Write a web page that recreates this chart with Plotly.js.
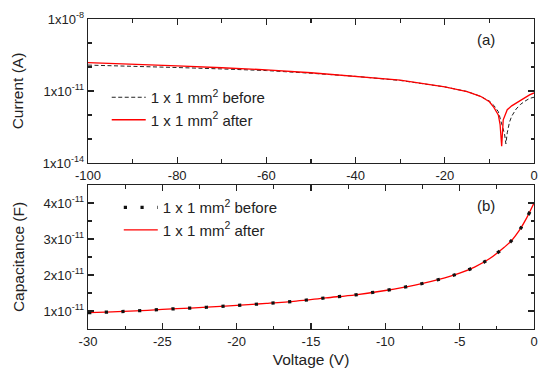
<!DOCTYPE html>
<html>
<head>
<meta charset="utf-8">
<script src="https://cdn.plot.ly/plotly-3.0.1.min.js"></script>
<style>html,body{margin:0;padding:0;background:#fff;}#chart{width:550px;height:379px;}</style>
</head>
<body>
<div id="chart"></div>
<script>
// Panel (a): current vs voltage (absolute current, A)
const ivVoltageBefore = [-100,-90,-80,-70,-60,-50,-40,-30,-20,-15,-12,-10,-9,-8,-7,-6.6,-6.3,-6,-5.5,-5,-4,-3,-2,-1,0];
const ivCurrentBefore = [1.2e-10,1.1e-10,9.5e-11,8.3e-11,7.1e-11,5.5e-11,4.07e-11,2.75e-11,1.48e-11,9.5e-12,6.0e-12,3.8e-12,2.5e-12,1.38e-12,3.5e-13,1.6e-13,6.3e-14,1.8e-13,5.0e-13,8.9e-13,1.78e-12,2.8e-12,3.8e-12,4.9e-12,5.5e-12];
const ivVoltageAfter = [-100,-90,-80,-70,-60,-50,-40,-30,-20,-15,-12,-10,-9,-8,-7.6,-7.25,-6.9,-6.5,-6,-5,-4,-3,-2,-1,0];
const ivCurrentAfter = [1.51e-10,1.32e-10,1.12e-10,9.3e-11,7.6e-11,5.75e-11,4.17e-11,2.82e-11,1.48e-11,9.5e-12,6.0e-12,3.55e-12,2.09e-12,1.0e-12,4.0e-13,5.0e-14,6.3e-13,1.0e-12,1.66e-12,2.4e-12,3.16e-12,3.98e-12,5.25e-12,6.9e-12,8.3e-12];

// Panel (b): capacitance vs voltage (F)
const cvVoltage = [-30,-28,-26,-24,-22,-20,-18,-16,-14,-12,-10,-8,-6,-5,-4,-3,-2,-1.5,-1,-0.5,0];
const cvCapBefore = [0.955e-11,0.98e-11,1.02e-11,1.065e-11,1.105e-11,1.155e-11,1.21e-11,1.275e-11,1.365e-11,1.45e-11,1.57e-11,1.72e-11,1.92e-11,2.05e-11,2.22e-11,2.45e-11,2.77e-11,2.96e-11,3.23e-11,3.58e-11,4.0e-11];
const cvCapAfter = [0.955e-11,0.98e-11,1.02e-11,1.065e-11,1.105e-11,1.155e-11,1.21e-11,1.275e-11,1.365e-11,1.45e-11,1.57e-11,1.72e-11,1.92e-11,2.05e-11,2.22e-11,2.45e-11,2.77e-11,2.96e-11,3.23e-11,3.58e-11,4.0e-11];

// Tick labels
const topXTicks = [-100,-80,-60,-40,-20,0];
const topXLabels = ['-100','-80','-60','-40','-20','0'];
const topYTicks = [1e-14,1e-11,1e-8];
const topYLabels = ['1x10<sup>-14</sup>','1x10<sup>-11</sup>','1x10<sup>-8</sup>'];
const topYMinor = [1e-13,1e-12,1e-10,1e-9];
const botXTicks = [-30,-25,-20,-15,-10,-5,0];
const botXLabels = ['-30','-25','-20','-15','-10','-5','0'];
const botYTicks = [1e-11,2e-11,3e-11,4e-11];
const botYLabels = ['1x10<sup>-11</sup>','2x10<sup>-11</sup>','3x10<sup>-11</sup>','4x10<sup>-11</sup>'];

const legendName1 = '1 x 1 mm<sup>2</sup> before';
const legendName2 = '1 x 1 mm<sup>2</sup> after';

const FONT = 'Liberation Sans, Arial, sans-serif';
const axisCol = '#222';

const traces = [
  {x: ivVoltageBefore, y: ivCurrentBefore, xaxis:'x', yaxis:'y', mode:'lines', name: legendName1,
   line:{color:'#222', width:1, dash:'4px,2.5px'}, legend:'legend', legendrank:1},
  {x: ivVoltageAfter, y: ivCurrentAfter, xaxis:'x', yaxis:'y', mode:'lines', name: legendName2,
   line:{color:'#ff0000', width:1.3}, legend:'legend', legendrank:2},
  {x: cvVoltage, y: cvCapAfter, xaxis:'x2', yaxis:'y2', mode:'lines', name: legendName2,
   line:{color:'#ff0000', width:1.3, shape:'spline'}, legend:'legend2', legendrank:2},
  {x: cvVoltage, y: cvCapBefore, xaxis:'x2', yaxis:'y2', mode:'lines', name: legendName1,
   line:{color:'#111', width:3.2, dash:'3.2px,13.5px', shape:'spline'}, legend:'legend2', legendrank:1}
];

const baseAxis = {
  showline:true, linecolor:axisCol, linewidth:1.3, mirror:'ticks',
  ticks:'inside', ticklen:6, tickwidth:1.2, tickcolor:axisCol,
  showgrid:false, zeroline:false,
  tickfont:{family:FONT, size:13, color:'#222'}
};
const titleFont = {family:FONT, size:15.5, color:'#222'};

const layout = {
  width:550, height:379,
  margin:{l:88, r:16, t:19, b:50},
  paper_bgcolor:'#fff', plot_bgcolor:'#fff',
  font:{family:FONT, color:'#222'},
  showlegend:true,
  xaxis: Object.assign({}, baseAxis, {
    domain:[0,1], anchor:'y', range:[-100,0], tickmode:'array', tickvals:topXTicks, ticktext:topXLabels,
    minor:{ticks:'inside', ticklen:3.5, tickwidth:1.2, tickcolor:axisCol, dtick:10, tick0:0}
  }),
  yaxis: Object.assign({}, baseAxis, {
    domain:[0.5355,1], anchor:'x', type:'log', range:[-14,-8], tickmode:'array',
    tickvals:topYTicks, ticktext:topYLabels,
    minor:{ticks:'inside', ticklen:3.5, tickwidth:1.2, tickcolor:axisCol, tickmode:'array', tickvals:topYMinor},
    title:{text:'Current (A)', font:titleFont, standoff:15}
  }),
  xaxis2: Object.assign({}, baseAxis, {
    domain:[0,1], anchor:'y2', range:[-30,0], tickmode:'array', tickvals:botXTicks, ticktext:botXLabels,
    minor:{ticks:'inside', ticklen:3.5, tickwidth:1.2, tickcolor:axisCol, dtick:2.5, tick0:0},
    title:{text:'Voltage (V)', font:titleFont, standoff:6}
  }),
  yaxis2: Object.assign({}, baseAxis, {
    domain:[0,0.4645], anchor:'x2', range:[0.5e-11,4.5e-11], tickmode:'array',
    tickvals:botYTicks, ticktext:botYLabels,
    minor:{ticks:'inside', ticklen:3.5, tickwidth:1.2, tickcolor:axisCol, dtick:0.5e-11, tick0:0},
    title:{text:'Capacitance (F)', font:titleFont, standoff:15}
  }),
  legend:{x:0.042, y:0.8, xanchor:'left', yanchor:'top', bgcolor:'rgba(0,0,0,0)',
    font:{family:FONT, size:15, color:'#222'}, tracegroupgap:0, itemwidth:34},
  legend2:{x:0.069, y:0.445, xanchor:'left', yanchor:'top', bgcolor:'rgba(0,0,0,0)',
    font:{family:FONT, size:15, color:'#222'}, tracegroupgap:0, itemwidth:34},
  annotations:[
    {xref:'paper', yref:'paper', x:0.892, y:0.935, xanchor:'center', yanchor:'middle', text:'(a)', showarrow:false,
     font:{family:FONT, size:15, color:'#222'}},
    {xref:'paper', yref:'paper', x:0.892, y:0.397, xanchor:'center', yanchor:'middle', text:'(b)', showarrow:false,
     font:{family:FONT, size:15, color:'#222'}}
  ]
};

Plotly.newPlot('chart', traces, layout, {displayModeBar:false, staticPlot:true});
</script>
</body>
</html>
